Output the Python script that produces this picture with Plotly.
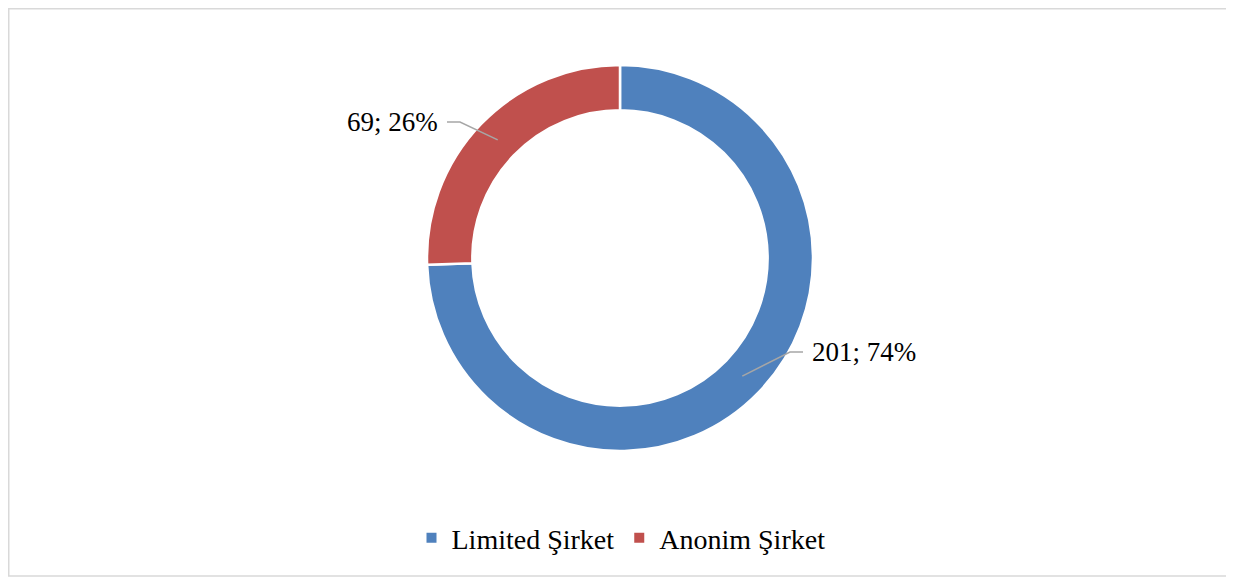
import math
import plotly.graph_objects as go

labels = ["Limited Şirket", "Anonim Şirket"]
values = [201, 69]
colors = ["#4F81BD", "#C0504D"]

# page body adds an 8px offset, so the figure is 8px smaller and coords shifted
OFF = 8
W, H = 1234 - OFF, 579 - OFF
CX, CY, R = 620 - OFF, 258 - OFF, 193  # pie centre / radius in pixels
FONT = "Liberation Serif, Times New Roman, serif"


def px(x, y):
    return x / W, 1 - y / H


total = sum(values)
fig = go.Figure(go.Pie(
    labels=labels,
    values=values,
    hole=0.765,
    sort=False,
    direction="clockwise",
    rotation=0,
    marker=dict(colors=colors, line=dict(color="white", width=2.5)),
    textinfo="none",
    hoverinfo="label+value+percent",
    domain=dict(x=[(CX - R) / W, (CX + R) / W], y=[1 - (CY + R) / H, 1 - (CY - R) / H]),
))

# leader lines + labels, placed from each slice's mid angle
shapes, annotations = [], []
cum = 0
for v in values:
    mid = (cum + v / 2) / total * 2 * math.pi
    cum += v
    sx, sy = math.sin(mid), -math.cos(mid)
    right = sx > 0
    p0 = (CX + 170 * sx, CY + 170 * sy)
    if right:
        e1 = (CX + 170, CY + 94)
        e2 = (CX + 183, CY + 94)
    else:
        e1 = (CX - 160, CY - 136)
        e2 = (CX - 173, CY - 136)
    x0, y0 = px(*p0)
    x1, y1 = px(*e1)
    x2, y2 = px(*e2)
    shapes.append(dict(type="path", xref="paper", yref="paper",
                       path=f"M {x0} {y0} L {x1} {y1} L {x2} {y2}",
                       line=dict(color="#A6A6A6", width=1.5)))
    pct = round(v / total * 100)
    annotations.append(dict(
        x=x2 + (0.006 if right else -0.006), y=y2, xref="paper", yref="paper",
        text=f"{v}; {pct}%", showarrow=False,
        xanchor="left" if right else "right", yanchor="middle",
        font=dict(family=FONT, size=27, color="#000000"),
    ))

# chart border (top/left hug the figure edge)
bx0, by0 = px(0.75, 0.75)
bx1, by1 = px(1232 - OFF, 576 - OFF)
shapes.append(dict(type="rect", xref="paper", yref="paper",
                   x0=bx0, y0=by0, x1=bx1, y1=by1,
                   line=dict(color="#D9D9D9", width=1.5)))

fig.update_layout(
    width=W, height=H,
    margin=dict(l=0, r=0, t=0, b=0),
    paper_bgcolor="white",
    plot_bgcolor="white",
    shapes=shapes,
    annotations=annotations,
    showlegend=True,
    legend=dict(orientation="h", x=0.5, xanchor="center", y=1 - (538 - OFF) / H, yanchor="middle",
                font=dict(family=FONT, size=28, color="#000000"),
                itemsizing="constant"),
)

fig.write_html("out.html")
